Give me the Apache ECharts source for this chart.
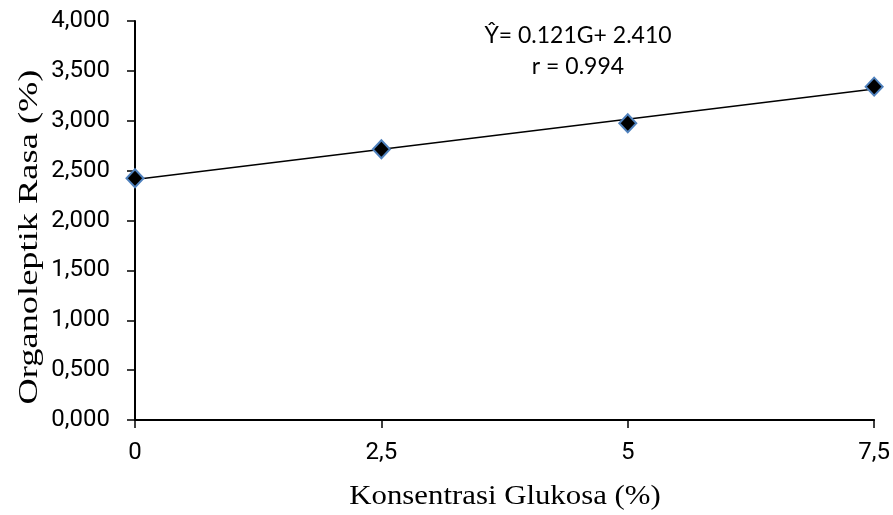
<!DOCTYPE html>
<html>
<head>
<meta charset="utf-8">
<script src="https://cdn.jsdelivr.net/npm/echarts@6/dist/echarts.min.js"></script>
<style>
  html, body { margin: 0; padding: 0; background: #fff; }
  #chart { width: 893px; height: 515px; }
</style>
</head>
<body>
<div id="chart"></div>
<script>
// data
var glukosa = [0, 2.5, 5, 7.5];
var rasa = [2.423, 2.714, 2.975, 3.342];
// regression line Ŷ = 0.121G + 2.410, drawn between its two ends
var trendX = [0, 7.5];
var trendY = [2.410, 3.318];
var equationText = "Ŷ= 0.121G+ 2.410";
var rText = "r = 0.994";
var xTitle = "Konsentrasi Glukosa (%)";
var yTitle = "Organoleptik Rasa (%)";

var chart = echarts.init(document.getElementById("chart"));

chart.setOption({
  animation: false,
  grid: {
    left: 135,
    right: 18,
    top: 21,
    bottom: 95
  },
  xAxis: {
    type: "value",
    min: 0,
    max: 7.5,
    interval: 2.5,
    axisLine: { lineStyle: { color: "#000", width: 2 } },
    axisTick: { show: true, length: 8, lineStyle: { color: "#000", width: 1.5 } },
    axisLabel: {
      margin: 21,
      fontFamily: "Roboto",
      fontSize: 24,
      color: "#000",
      formatter: function (v) { return String(v).replace(".", ","); }
    },
    splitLine: { show: false }
  },
  yAxis: {
    type: "value",
    min: 0,
    max: 4,
    interval: 0.5,
    axisLine: { show: true, lineStyle: { color: "#000", width: 2 } },
    axisTick: { show: true, length: 8, lineStyle: { color: "#000", width: 1.5 } },
    axisLabel: {
      margin: 25,
      fontFamily: "Roboto",
      fontSize: 24,
      color: "#000",
      formatter: function (v) { return v.toFixed(3).replace(".", ","); }
    },
    splitLine: { show: false }
  },
  graphic: [
    {
      type: "text",
      x: 578,
      y: 20,
      style: {
        text: equationText + "\n" + rText,
        align: "center",
        fontFamily: "Lato",
        fontSize: 23,
        lineHeight: 31,
        fill: "#000"
      }
    },
    {
      type: "text",
      x: 505,
      y: 497,
      scaleX: 1.1,
      style: {
        text: xTitle,
        align: "center",
        verticalAlign: "middle",
        fontFamily: "Liberation Serif",
        fontSize: 28,
        fill: "#000"
      }
    },
    {
      type: "text",
      x: 30,
      y: 237,
      rotation: Math.PI / 2,
      scaleX: 1.3,
      style: {
        text: yTitle,
        align: "center",
        verticalAlign: "middle",
        fontFamily: "Liberation Serif",
        fontSize: 28,
        fill: "#000"
      }
    }
  ],
  series: [
    {
      type: "line",
      data: trendX.map(function (x, i) { return [x, trendY[i]]; }),
      symbol: "none",
      lineStyle: { color: "#000", width: 1.5 },
      z: 2
    },
    {
      type: "scatter",
      data: glukosa.map(function (x, i) { return [x, rasa[i]]; }),
      symbol: "diamond",
      symbolSize: [17, 18],
      itemStyle: { color: "#000", borderColor: "#4f81bd", borderWidth: 2, opacity: 1 },
      z: 3
    }
  ]
});
</script>
</body>
</html>
